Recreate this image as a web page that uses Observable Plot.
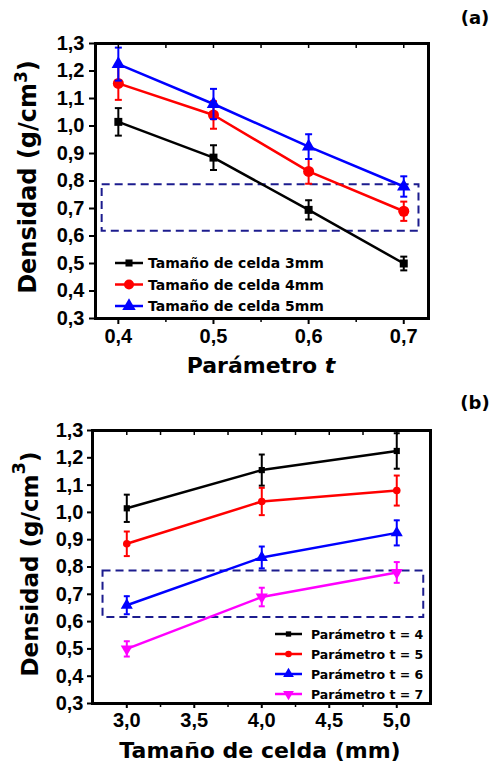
<!DOCTYPE html>
<html><head><meta charset="utf-8">
<script src="https://cdn.jsdelivr.net/npm/d3@7"></script>
<script src="https://cdn.jsdelivr.net/npm/@observablehq/plot@0.6"></script>
<style>
body{margin:0;background:#fff;font-family:"DejaVu Sans",sans-serif;}
#chart{width:495px;}
svg{display:block;overflow:visible}
</style></head><body><div id="chart"></div>
<script>
// ---------- data ----------
const paramT = [0.4, 0.5, 0.6, 0.7];
const seriesA = ["Tamaño de celda 3mm", "Tamaño de celda 4mm", "Tamaño de celda 5mm"];
const densA3 = [1.015, 0.885, 0.695, 0.50];
const errA3  = [0.050, 0.045, 0.035, 0.025];
const densA4 = [1.155, 1.040, 0.835, 0.690];
const errA4  = [0.060, 0.050, 0.045, 0.035];
const densA5 = [1.225, 1.080, 0.925, 0.780];
const errA5  = [0.060, 0.055, 0.045, 0.037];

const cellSizes = [3, 4, 5];
const seriesB = ["Parámetro t = 4", "Parámetro t = 5", "Parámetro t = 6", "Parámetro t = 7"];
const densB4 = [1.015, 1.155, 1.225];
const errB4  = [0.050, 0.057, 0.065];
const densB5 = [0.885, 1.040, 1.080];
const errB5  = [0.045, 0.050, 0.055];
const densB6 = [0.660, 0.835, 0.925];
const errB6  = [0.033, 0.040, 0.046];
const densB7 = [0.500, 0.690, 0.780];
const errB7  = [0.028, 0.034, 0.038];

const yTicks = [0.3, 0.4, 0.5, 0.6, 0.7, 0.8, 0.9, 1.0, 1.1, 1.2, 1.3];
const xTicksA = [0.4, 0.5, 0.6, 0.7];
const xMinorA = [0.45, 0.55, 0.65];
const xTicksB = [3.0, 3.5, 4.0, 4.5, 5.0];
const xMinorB = [3.25, 3.75, 4.25, 4.75];

// highlighted density window (dashed box)
const boxA = [{x1: 0.383, x2: 0.716, y1: 0.617, y2: 0.786}];
const boxB = [{x1: 2.824, x2: 5.20, y1: 0.615, y2: 0.785}];

// ---------- styles ----------
const colorsA = ["#000000", "#ff0000", "#0000ff"];
const colorsB = ["#000000", "#ff0000", "#0000ff", "#ff00ff"];
const navy = "#1c1c8e";
const sqrt3 = Math.sqrt(3);
const triDown = {draw(ctx, size) {
  const y = -Math.sqrt(size / (sqrt3 * 3));
  ctx.moveTo(0, -y * 2); ctx.lineTo(-sqrt3 * y, y); ctx.lineTo(sqrt3 * y, y); ctx.closePath();
}};
const capSym = {draw(ctx, size) {
  const w = Math.sqrt(size / Math.PI); ctx.moveTo(-w, 0); ctx.lineTo(w, 0);
}};
const symbolsA = [d3.symbolSquare, d3.symbolCircle, d3.symbolTriangle];
const symbolsB = [d3.symbolSquare, d3.symbolCircle, d3.symbolTriangle, triDown];
const fmt = d => d.toFixed(1).replace(".", ",");

function rowsOf(xs, vals, errs, names) {
  return vals.flatMap((v, i) => v.map((y, j) => ({series: names[i], x: xs[j], y, e: errs[i][j]})));
}
const rowsA = rowsOf(paramT, [densA3, densA4, densA5], [errA3, errA4, errA5], seriesA);
const rowsB = rowsOf(cellSizes, [densB4, densB5, densB6, densB7], [errB4, errB5, errB6, errB7], seriesB);

function panel(cfg) {
  const marks = [
    Plot.rect(cfg.box, {x1: "x1", x2: "x2", y1: "y1", y2: "y2", fill: "none", stroke: navy, strokeWidth: 2, strokeDasharray: "8,5"})
  ];
  cfg.series.forEach((s, i) => {
    const d = cfg.rows.filter(r => r.series === s);
    const c = cfg.colors[i];
    marks.push(
      Plot.ruleX(d, {x: "x", y1: r => r.y - r.e, y2: r => r.y + r.e, stroke: c, strokeWidth: 2}),
      Plot.dot(d, {x: "x", y: r => r.y + r.e, symbol: capSym, r: cfg.capR, stroke: c, strokeWidth: 2}),
      Plot.dot(d, {x: "x", y: r => r.y - r.e, symbol: capSym, r: cfg.capR, stroke: c, strokeWidth: 2}),
      Plot.line(d, {x: "x", y: "y", stroke: c, strokeWidth: cfg.lineW}),
      Plot.dot(d, {x: "x", y: "y", symbol: cfg.symbols[i], r: cfg.radii[i], fill: c, stroke: "none"})
    );
  });
  marks.push(
    Plot.axisY({ticks: yTicks, tickFormat: fmt, tickSize: cfg.tickSize, tickPadding: cfg.yPad, strokeWidth: 2, label: null}),
    Plot.axisX({ticks: cfg.xTicks, tickFormat: fmt, tickSize: cfg.tickSize, tickPadding: cfg.xPad, strokeWidth: 2, label: null}),
    Plot.axisX({ticks: cfg.xMinor, tickFormat: () => "", tickSize: 4, strokeWidth: 1.5, label: null}),
    Plot.axisX({anchor: "top", ticks: [...cfg.xTicks, ...cfg.xMinor], tickFormat: () => "", tickSize: -4, strokeWidth: 1.5, label: null}),
    Plot.frame({stroke: "#000", strokeWidth: 3})
  );
  const svg = Plot.plot({
    width: 495, height: cfg.height,
    marginLeft: cfg.m[3], marginRight: cfg.m[1], marginTop: cfg.m[0], marginBottom: cfg.m[2],
    x: {domain: cfg.xDomain, label: null},
    y: {domain: [0.3, 1.3], label: null},
    style: {fontFamily: "'Liberation Sans', Arial, sans-serif", fontSize: "20px", fontWeight: "bold", color: "#000", background: "#fff", overflow: "visible"},
    marks
  });
  const g = d3.select(svg).append("g").attr("font-family", "'DejaVu Sans', sans-serif").attr("font-weight", "bold").attr("fill", "#000");
  // legend
  cfg.series.forEach((s, i) => {
    const y = cfg.leg.y0 + i * cfg.leg.dy;
    g.append("line").attr("x1", cfg.leg.x1).attr("x2", cfg.leg.x2).attr("y1", y).attr("y2", y)
      .attr("stroke", cfg.colors[i]).attr("stroke-width", cfg.lineW);
    g.append("path").attr("d", d3.symbol(cfg.symbols[i], Math.PI * cfg.leg.r[i] ** 2)())
      .attr("transform", `translate(${(cfg.leg.x1 + cfg.leg.x2) / 2},${y})`).attr("fill", cfg.colors[i]);
    g.append("text").attr("x", cfg.leg.tx).attr("y", y).attr("dy", "0.36em").attr("text-anchor", "start")
      .attr("font-size", cfg.leg.fs).text(s);
  });
  // y title
  const yt = g.append("text").attr("transform", `translate(${cfg.yt.x},${cfg.yt.y}) rotate(-90)`)
    .attr("text-anchor", "middle").attr("font-size", cfg.yt.fs);
  yt.append("tspan").text("Densidad (g/cm");
  yt.append("tspan").attr("dy", cfg.yt.supDy).attr("font-size", cfg.yt.supFs).text("3");
  yt.append("tspan").attr("dy", -cfg.yt.supDy).text(")");
  // x title
  const xt = g.append("text").attr("x", cfg.xt.x).attr("y", cfg.xt.y).attr("text-anchor", "middle").attr("font-size", cfg.xt.fs);
  cfg.xt.parts.forEach(p => xt.append("tspan").attr("font-style", p.italic ? "italic" : null).text(p.t));
  // panel tag
  g.append("text").attr("x", 475).attr("y", cfg.tagY).attr("text-anchor", "middle").attr("font-size", 18).text(cfg.tag);
  return svg;
}

const chart = document.getElementById("chart");
chart.append(panel({
  rows: rowsA, series: seriesA, colors: colorsA, symbols: symbolsA, radii: [4.5, 5.5, 5],
  capR: 3.5, lineW: 2.5, height: 380, m: [43, 67, 62, 95], xDomain: [0.376, 0.726],
  xTicks: xTicksA, xMinor: xMinorA, box: boxA, tickSize: 6, yPad: 5, xPad: 4,
  leg: {x1: 115, x2: 143, tx: 148, y0: 263, dy: 21.5, fs: 14, r: [4, 5, 5]},
  yt: {x: 36, y: 177, fs: 24, supDy: -9, supFs: 17},
  xt: {x: 261, y: 373, fs: 22, parts: [{t: "Parámetro "}, {t: "t", italic: true}]},
  tag: "(a)", tagY: 24
}));
chart.append(panel({
  rows: rowsB, series: seriesB, colors: colorsB, symbols: symbolsB, radii: [3.5, 3.8, 4.5, 4.5],
  capR: 3, lineW: 2.5, height: 387, m: [50, 65, 64, 92], xDomain: [2.746, 5.25],
  xTicks: xTicksB, xMinor: xMinorB, box: boxB, tickSize: 5, yPad: 4, xPad: 4,
  leg: {x1: 275, x2: 302, tx: 311, y0: 254, dy: 20, fs: 12.5, r: [3, 3.3, 4, 4]},
  yt: {x: 38, y: 184, fs: 23, supDy: -13, supFs: 18},
  xt: {x: 260, y: 378, fs: 22, parts: [{t: "Tamaño de celda (mm)"}]},
  tag: "(b)", tagY: 29
}));
</script></body></html>
